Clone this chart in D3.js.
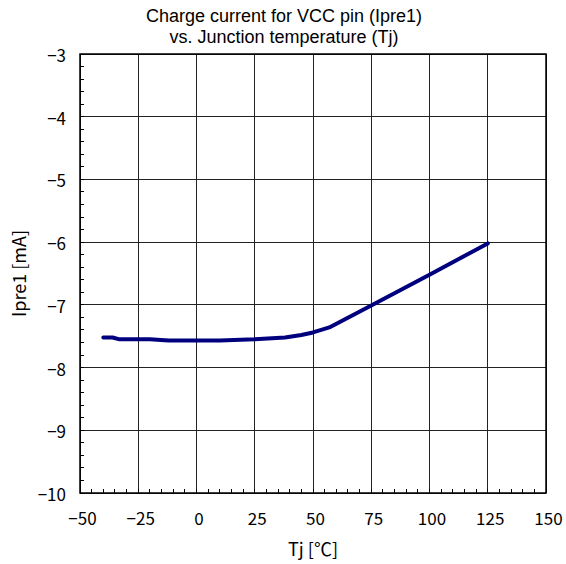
<!DOCTYPE html>
<html><head><meta charset="utf-8">
<script src="https://cdn.jsdelivr.net/npm/d3@7"></script>
<style>body{margin:0;background:#fff}text{font-family:"Noto Sans CJK JP","Liberation Sans",sans-serif;fill:#000}</style>
</head><body>
<svg id="c" width="566" height="564"></svg>
<script>
const titleLines = ["Charge current for VCC pin (Ipre1)", "vs. Junction temperature (Tj)"];
const xLabel = "Tj [℃]";
const yLabel = "Ipre1 [mA]";
const xTicks = [-50, -25, 0, 25, 50, 75, 100, 125, 150];
const yTicks = [-3, -4, -5, -6, -7, -8, -9, -10];
const tj = [-40, -36, -33, -20, -12, 10, 25, 38, 45, 50, 57, 75, 100, 125];
const ipre1 = [-7.52, -7.52, -7.55, -7.55, -7.57, -7.57, -7.55, -7.52, -7.48, -7.44, -7.36, -7.01, -6.52, -6.02];

const svg = d3.select("#c");
const m = {l: 80, r: 546, t: 54, b: 493};
const x = d3.scaleLinear().domain([-50, 150]).range([m.l, m.r]);
const y = d3.scaleLinear().domain([-10, -3]).range([m.b, m.t]);
const fmt = d => d < 0 ? "\u2212" + Math.abs(d) : String(d);
const FONT = '"Noto Sans CJK JP","Liberation Sans",sans-serif';

// grid
svg.append("g").selectAll("line").data(xTicks).join("line")
  .attr("x1", d => x(d)).attr("x2", d => x(d)).attr("y1", m.t).attr("y2", m.b)
  .attr("stroke", "#222").attr("stroke-width", 1).attr("shape-rendering", "crispEdges");
svg.append("g").selectAll("line").data(yTicks).join("line")
  .attr("x1", m.l).attr("x2", m.r).attr("y1", d => y(d)).attr("y2", d => y(d))
  .attr("stroke", "#222").attr("stroke-width", 1).attr("shape-rendering", "crispEdges");

// minor ticks
const xMinor = d3.range(-50, 150.01, 5);
const yMinor = d3.range(-10, -2.99, 0.2);
svg.append("g").selectAll("line").data(xMinor).join("line")
  .attr("x1", d => x(d)).attr("x2", d => x(d)).attr("y1", m.b).attr("y2", m.b - 4)
  .attr("stroke", "#000").attr("shape-rendering", "crispEdges");
svg.append("g").selectAll("line").data(yMinor).join("line")
  .attr("x1", m.l).attr("x2", m.l + 4).attr("y1", d => y(d)).attr("y2", d => y(d))
  .attr("stroke", "#000").attr("shape-rendering", "crispEdges");

// border
svg.append("rect").attr("x", m.l).attr("y", m.t).attr("width", m.r - m.l).attr("height", m.b - m.t)
  .attr("fill", "none").attr("stroke", "#000").attr("stroke-width", 1.5);

// axes via d3
const xAxis = svg.append("g").attr("transform", `translate(2,${m.b})`)
  .call(d3.axisBottom(x).tickValues(xTicks).tickFormat(fmt).tickSize(0).tickPadding(20));
const yAxis = svg.append("g").attr("transform", `translate(${m.l},2)`)
  .call(d3.axisLeft(y).tickValues(yTicks).tickFormat(fmt).tickSize(0).tickPadding(14));
[xAxis, yAxis].forEach(a => {
  a.select(".domain").remove();
  a.selectAll("text").style("font-size", "17px").style("font-family", FONT);
});

// line
svg.append("path").datum(tj.map((t, i) => [t, ipre1[i]]))
  .attr("d", d3.line().x(d => x(d[0])).y(d => y(d[1])))
  .attr("fill", "none").attr("stroke", "#00007f").attr("stroke-width", 4)
  .attr("stroke-linejoin", "round").attr("stroke-linecap", "round");

// titles
svg.append("g").selectAll("text").data(titleLines).join("text")
  .attr("x", 284).attr("y", (d, i) => 22 + i * 21).attr("text-anchor", "middle")
  .style("font-family", '"Liberation Sans",Arial,sans-serif')
  .style("font-size", "18px").text(d => d);
svg.append("text").attr("x", (m.l + m.r) / 2).attr("y", 556).attr("text-anchor", "middle")
  .style("font-size", "18px").text(xLabel);
svg.append("text").attr("transform", `translate(26,${(m.t + m.b) / 2}) rotate(-90)`)
  .attr("text-anchor", "middle").style("font-size", "18px").text(yLabel);
</script>
</body></html>
